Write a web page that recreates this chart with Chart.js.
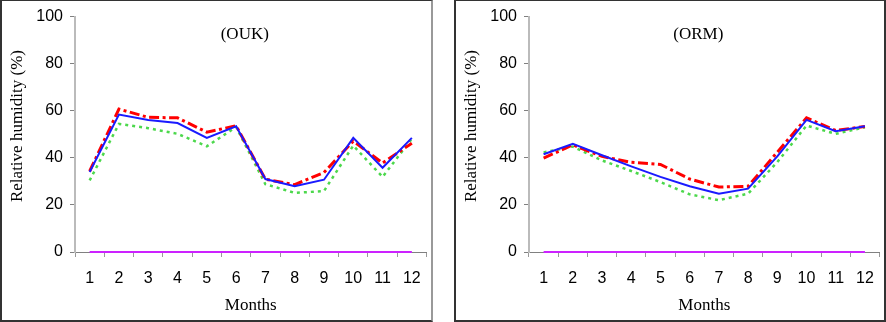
<!DOCTYPE html>
<html>
<head>
<meta charset="utf-8">
<script src="https://cdn.jsdelivr.net/npm/chart.js@4.4.0/dist/chart.umd.min.js"></script>
<style>
  html, body { margin: 0; padding: 0; background: #fff; }
  body { width: 886px; height: 322px; position: relative; overflow: hidden; }
  .panel { position: absolute; top: 0; height: 322px; }
  .frame { position: absolute; top: 0; height: 322px; box-sizing: border-box; pointer-events: none; }
</style>
</head>
<body>
<div class="panel" style="left:0;width:433px"><canvas id="oukChart" width="433" height="322"></canvas></div>
<div class="panel" style="left:454px;width:432px"><canvas id="ormChart" width="432" height="322"></canvas></div>
<div class="frame" style="left:0;width:433px;border-left:2px solid #333;border-top:1px solid #333;border-bottom:2px solid #333;border-right:2px solid #999"></div>
<div class="frame" style="left:454px;width:432px;border:2px solid #333;border-top-width:1px"></div>
<script>
const months = ["1", "2", "3", "4", "5", "6", "7", "8", "9", "10", "11", "12"];
const yTicks = [0, 20, 40, 60, 80, 100];

// (OUK)
const oukBlue = [34.0, 58.4, 56.1, 54.8, 48.5, 53.4, 31.0, 27.9, 30.7, 48.5, 35.8, 48.5];
const oukRed = [34.3, 60.7, 57.2, 57.0, 50.9, 53.6, 30.9, 28.6, 33.8, 47.1, 37.8, 46.2];
const oukGreen = [30.4, 54.4, 52.6, 50.2, 44.9, 53.1, 28.8, 25.1, 25.9, 45.2, 31.9, 48.1];
const oukZero = [0, 0, 0, 0, 0, 0, 0, 0, 0, 0, 0, 0];

// (ORM)
const ormBlue = [41.5, 46.0, 41.1, 36.4, 31.9, 27.9, 24.8, 26.9, 40.6, 56.1, 51.3, 53.4];
const ormRed = [39.9, 45.5, 40.6, 38.1, 37.2, 31.0, 27.6, 27.9, 42.4, 57.0, 51.6, 53.3];
const ormGreen = [42.3, 44.8, 38.9, 34.4, 29.7, 24.5, 22.0, 24.8, 38.2, 53.7, 50.2, 53.0];
const ormZero = [0, 0, 0, 0, 0, 0, 0, 0, 0, 0, 0, 0];

const sansFont = '"Liberation Sans", Arial, sans-serif';
const serifFont = '"Liberation Serif", "Times New Roman", serif';

// station label inside the plot and the rotated y title
const panelText = {
  id: "panelText",
  afterDraw(chart, args, opts) {
    const ctx = chart.ctx;
    const area = chart.chartArea;
    ctx.save();
    ctx.fillStyle = "#000";
    ctx.font = "17px " + serifFont;
    ctx.textAlign = "center";
    ctx.textBaseline = "middle";
    ctx.fillText(opts.station, area.left + (area.right - area.left) * 0.483, 35);
    ctx.translate(18, 126);
    ctx.rotate(-Math.PI / 2);
    ctx.fillText("Relative humidity (%)", 0, 0);
    ctx.restore();
  },
};

function humidityChart(id, station, blue, red, green, zero, padRight) {
  const ctx = document.getElementById(id).getContext("2d");
  return new Chart(ctx, {
    type: "line",
    data: {
      labels: months,
      datasets: [
        { data: blue, borderColor: "#1a1aff", borderWidth: 2 },
        { data: red, borderColor: "#ff0000", borderWidth: 3, borderDash: [10, 3.5, 3, 3.5] },
        { data: green, borderColor: "#4cd84c", borderWidth: 2.5, borderDash: [3, 4] },
        { data: zero, borderColor: "#cc22ff", borderWidth: 2 },
      ],
    },
    options: {
      responsive: false,
      animation: false,
      devicePixelRatio: 1,
      elements: { point: { radius: 0 }, line: { tension: 0 } },
      datasets: { line: { clip: false } },
      layout: { padding: { top: 16, right: padRight, bottom: 0, left: 0 } },
      plugins: {
        legend: { display: false },
        tooltip: { enabled: false },
        panelText: { station },
      },
      scales: {
        x: {
          offset: true,
          afterFit: (scale) => { scale.height = 70; },
          grid: { drawOnChartArea: false, drawTicks: true, tickLength: 5, color: "#999", offset: true },
          border: { color: "#808080", width: 1 },
          ticks: { color: "#000", font: { family: sansFont, size: 16 }, padding: 12, maxRotation: 0 },
          title: {
            display: true,
            text: "Months",
            color: "#000",
            font: { family: serifFont, size: 17 },
            padding: { top: 0, bottom: 6 },
          },
        },
        y: {
          min: yTicks[0],
          max: yTicks[yTicks.length - 1],
          afterFit: (scale) => { scale.width = 75; },
          afterBuildTicks: (scale) => { scale.ticks = yTicks.map((v) => ({ value: v })); },
          grid: { drawOnChartArea: false, drawTicks: true, tickLength: 5, color: "#808080" },
          border: { color: "#bbbbbb", width: 2 },
          ticks: { color: "#000", font: { family: sansFont, size: 16 }, padding: 7 },
        },
      },
    },
    plugins: [panelText],
  });
}

humidityChart("oukChart", "(OUK)", oukBlue, oukRed, oukGreen, oukZero, 6);
humidityChart("ormChart", "(ORM)", ormBlue, ormRed, ormGreen, ormZero, 4);
</script>
</body>
</html>
